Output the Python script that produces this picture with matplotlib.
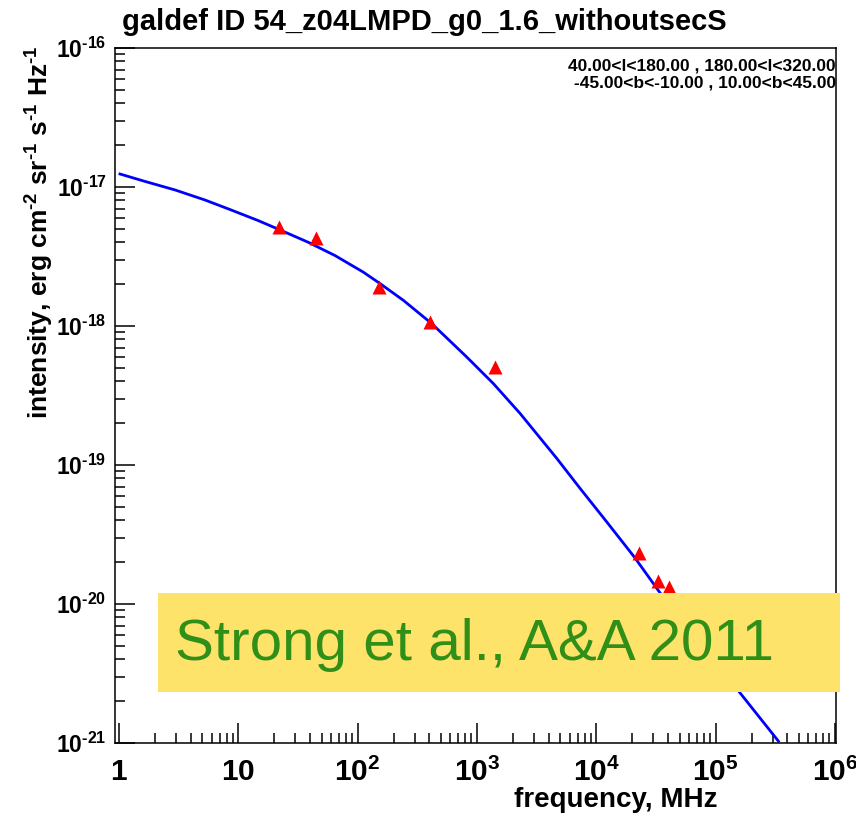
import numpy as np
import matplotlib
matplotlib.use('Agg')
import matplotlib.pyplot as plt
from matplotlib.ticker import LogLocator, FixedLocator, NullFormatter
from matplotlib.patches import Rectangle

plt.rcParams['font.family'] = 'Liberation Sans'
plt.rcParams['mathtext.fontset'] = 'custom'
plt.rcParams['mathtext.rm'] = 'Liberation Sans:bold'
plt.rcParams['mathtext.bf'] = 'Liberation Sans:bold'
plt.rcParams['mathtext.it'] = 'Liberation Sans:bold'

# model curve (frequency in MHz, intensity)
model_freq = [1.02, 1.65, 2.95, 5.26, 8.80, 14.7, 23.1, 38.6, 64.7, 111.6,
              154, 241.6, 418, 821, 1373, 2297, 4667, 7310, 12250, 21150,
              34270, 160400, 336100]
model_int = [1.24e-17, 1.097e-17, 9.52e-18, 8.06e-18, 6.81e-18, 5.73e-18,
             4.85e-18, 4.00e-18, 3.21e-18, 2.44e-18, 2.02e-18, 1.53e-18,
             1.04e-18, 5.98e-19, 3.85e-19, 2.35e-19, 1.115e-19, 6.79e-20,
             3.89e-20, 2.14e-20, 1.20e-20, 2.29e-21, 1.03e-21]

# survey data points
data_freq = [22, 45, 150, 408, 1420, 23000, 33000, 41000]
data_int = [5.19e-18, 4.26e-18, 1.92e-18, 1.06e-18, 5.05e-19, 2.33e-20,
            1.47e-20, 1.33e-20]

xticks = [1, 10, 1e2, 1e3, 1e4, 1e5, 1e6]
xticklabels = ['$1$', '$10$', '$10^{2}$', '$10^{3}$', '$10^{4}$', '$10^{5}$', '$10^{6}$']
yticks = [1e-21, 1e-20, 1e-19, 1e-18, 1e-17, 1e-16]
yticklabels = [r'$10^{\text{-}21}$', r'$10^{\text{-}20}$', r'$10^{\text{-}19}$',
               r'$10^{\text{-}18}$', r'$10^{\text{-}17}$', r'$10^{\text{-}16}$']

fig = plt.figure(figsize=(8.56, 8.16), dpi=100)
ax = fig.add_axes([0.1343, 0.0895, 0.8423, 0.8517])

ax.plot(model_freq, model_int, color='#0000ff', lw=2.0, zorder=2)
ax.plot(data_freq, data_int, '^', color='#ff0000', ms=9.5, mec='none', zorder=3)

ax.set_xscale('log')
ax.set_yscale('log')
ax.set_xlim(0.926, 1.02e6)
ax.set_ylim(1e-21, 1e-16)

ax.xaxis.set_major_locator(FixedLocator(xticks))
ax.set_xticklabels(xticklabels)
ax.yaxis.set_major_locator(FixedLocator(yticks))
ax.set_yticklabels(yticklabels)
ax.xaxis.set_minor_locator(LogLocator(base=10, subs=np.arange(2, 10), numticks=20))
ax.yaxis.set_minor_locator(LogLocator(base=10, subs=np.arange(2, 10), numticks=20))
ax.xaxis.set_minor_formatter(NullFormatter())
ax.yaxis.set_minor_formatter(NullFormatter())

ax.tick_params(which='major', direction='in', length=14.5, width=1.1)
ax.tick_params(which='minor', direction='in', length=7.2, width=1.1)
ax.tick_params(axis='x', which='major', labelsize=21.5, pad=11)
ax.tick_params(axis='y', which='major', labelsize=16.5, pad=6)
for s in ax.spines.values():
    s.set_linewidth(1.1)

fig.text(122 / 856, 1 - 22 / 816, 'galdef ID 54_z04LMPD_g0_1.6_withoutsecS',
         fontsize=21, fontweight='bold', ha='left', va='center')

fig.text(836 / 856, 1 - 66 / 816, '40.00<l<180.00 , 180.00<l<320.00',
         fontsize=12.5, fontweight='bold', ha='right', va='center')
fig.text(836 / 856, 1 - 83 / 816, '-45.00<b<-10.00 , 10.00<b<45.00',
         fontsize=12.5, fontweight='bold', ha='right', va='center')

fig.text(40 / 856, 1 - 45 / 816,
         'intensity, erg cm$^{\\text{-}2}$ sr$^{\\text{-}1}$ s$^{\\text{-}1}$ Hz$^{\\text{-}1}$',
         fontsize=19, fontweight='bold', rotation=90, ha='center', va='top')
fig.text(718 / 856, 1 - 800 / 816, 'frequency, MHz',
         fontsize=20, fontweight='bold', ha='right', va='center')

# yellow citation banner
fig.patches.append(Rectangle((158 / 856, 1 - 692 / 816), (840 - 158) / 856,
                             (692 - 593) / 816, transform=fig.transFigure,
                             facecolor='#fee36a', edgecolor='none', zorder=5))
fig.text(175 / 856, 1 - 645 / 816, 'Strong et al., A&A 2011', fontsize=42,
         color='#2f8f18', ha='left', va='center', zorder=6)

fig.savefig('out.png', dpi=100)
